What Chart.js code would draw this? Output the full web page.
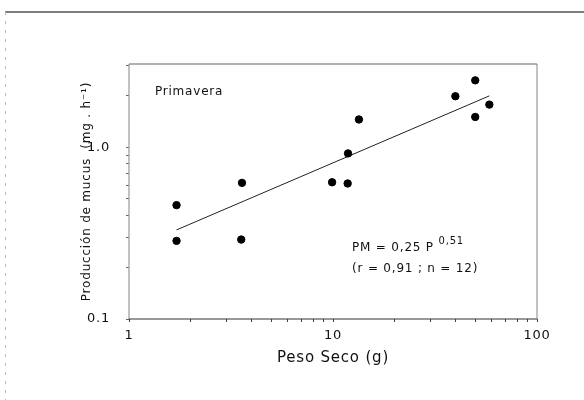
<!DOCTYPE html>
<html>
<head>
<meta charset="utf-8">
<script src="https://cdn.jsdelivr.net/npm/chart.js@4.4.1/dist/chart.umd.min.js"></script>
<style>
  html, body { margin: 0; padding: 0; background: #fff; }
  #wrap { width: 584px; height: 400px; }
</style>
</head>
<body>
<div id="wrap"><canvas id="mucusChart" width="584" height="400"></canvas></div>
<script>
// peso seco (g) vs producción de mucus (mg/h), primavera
const pesoSeco = [1.71, 1.71, 3.58, 3.55, 9.9, 11.8, 11.85, 13.4, 39.8, 49.8, 49.8, 58.4];
const mucus = [0.46, 0.285, 0.62, 0.29, 0.625, 0.615, 0.92, 1.45, 1.98, 2.45, 1.5, 1.77];

// recta de regresión (extremos)
const fitX = [1.71, 58.4];
const fitY = [0.33, 1.99];

const xTicks = [1, 2, 3, 4, 5, 6, 7, 8, 9, 10, 20, 30, 40, 50, 60, 70, 80, 90, 100];
const xLabels = { 1: '1', 10: '10', 100: '100' };
const yTicks = [0.1, 0.2, 0.3, 0.4, 0.5, 0.6, 0.7, 0.8, 0.9, 1, 2, 3];
const yLabels = { 0.1: '0.1', 1: '1.0' };

const FONT = "'DejaVu Sans', sans-serif";

// letra espaciada como en el original
const spacingPlugin = {
  id: 'spacingPlugin',
  beforeDraw(chart) { chart.ctx.letterSpacing = '0.8px'; }
};

// texto dentro del gráfico + marco
const framePlugin = {
  id: 'framePlugin',
  afterDraw(chart) {
    const c = chart.ctx;
    const a = chart.chartArea;
    const xs = chart.scales.x, ys = chart.scales.y;
    c.save();
    // borde de la hoja escaneada
    c.strokeStyle = '#555';
    c.lineWidth = 1.5;
    c.beginPath(); c.moveTo(5, 12); c.lineTo(584, 12); c.stroke();
    c.strokeStyle = '#bbb';
    c.lineWidth = 1;
    c.setLineDash([3, 6]);
    c.beginPath(); c.moveTo(5.5, 12); c.lineTo(5.5, 400); c.stroke();
    c.setLineDash([]);

    // caja del gráfico
    c.lineWidth = 1.2;
    c.strokeStyle = '#999';
    c.beginPath(); c.moveTo(a.left, a.bottom); c.lineTo(a.left, a.top); c.stroke();
    c.beginPath(); c.moveTo(a.right, a.bottom); c.lineTo(a.right, a.top); c.stroke();
    c.strokeStyle = '#666';
    c.beginPath(); c.moveTo(a.left, a.top); c.lineTo(a.right, a.top); c.stroke();
    c.strokeStyle = '#333';
    c.beginPath(); c.moveTo(a.left, a.bottom); c.lineTo(a.right, a.bottom); c.stroke();

    c.fillStyle = '#111';
    c.textBaseline = 'middle';
    c.textAlign = 'left';
    c.letterSpacing = '0.8px';
    c.font = '12px ' + FONT;
    c.fillText('Primavera', xs.getPixelForValue(1.34), ys.getPixelForValue(2.1));

    const px = xs.getPixelForValue(12.4);
    const py = ys.getPixelForValue(0.26);
    const main = 'PM = 0,25 P ';
    c.fillText(main, px, py);
    const w = c.measureText(main).width;
    c.font = '10px ' + FONT;
    c.fillText('0,51', px + w, py - 6);
    c.font = '12px ' + FONT;
    c.fillText('(r = 0,91 ; n = 12)', px, ys.getPixelForValue(0.196));
    c.restore();
  }
};

const ctx = document.getElementById('mucusChart');
const mucusChart = new Chart(ctx, {
  type: 'scatter',
  data: {
    datasets: [
      {
        label: 'regresión',
        type: 'line',
        data: fitX.map((x, i) => ({ x: x, y: fitY[i] })),
        borderColor: '#222',
        borderWidth: 1,
        pointRadius: 0,
        fill: false,
        order: 2
      },
      {
        label: 'Primavera',
        data: pesoSeco.map((x, i) => ({ x: x, y: mucus[i] })),
        backgroundColor: '#000',
        borderColor: '#000',
        pointRadius: 3.7,
        pointHoverRadius: 3.7,
        order: 1
      }
    ]
  },
  options: {
    responsive: false,
    animation: false,
    layout: { padding: { top: 64, right: 47, bottom: 0, left: 0 } },
    plugins: {
      legend: { display: false },
      tooltip: { enabled: false }
    },
    scales: {
      x: {
        type: 'logarithmic',
        min: 1,
        max: 100,
        afterBuildTicks(scale) { scale.ticks = xTicks.map(v => ({ value: v })); },
        afterFit(scale) { scale.height = 81; },
        border: { display: false },
        grid: { drawOnChartArea: false, tickLength: 3, color: '#444' },
        ticks: {
          autoSkip: false,
          maxRotation: 0,
          padding: 6,
          color: '#111',
          font: { family: FONT, size: 13 },
          callback: (v) => xLabels[v] || ''
        },
        title: {
          display: true,
          text: 'Peso Seco (g)',
          color: '#111',
          font: { family: FONT, size: 15 },
          padding: { top: 0, bottom: 33 }
        }
      },
      y: {
        type: 'logarithmic',
        min: 0.1,
        max: 3.05,
        afterBuildTicks(scale) { scale.ticks = yTicks.map(v => ({ value: v })); },
        afterFit(scale) { scale.width = 129; },
        border: { display: false },
        grid: { drawOnChartArea: false, tickLength: 3, color: '#666' },
        ticks: {
          autoSkip: false,
          padding: 16,
          color: '#111',
          font: { family: FONT, size: 13 },
          callback: (v) => yLabels[v] || ''
        },
        title: {
          display: true,
          text: 'Producción de mucus  (mg . h⁻¹)',
          color: '#111',
          font: { family: FONT, size: 12 },
          padding: { top: 80, bottom: 0 }
        }
      }
    }
  },
  plugins: [spacingPlugin, framePlugin]
});
</script>
</body>
</html>
